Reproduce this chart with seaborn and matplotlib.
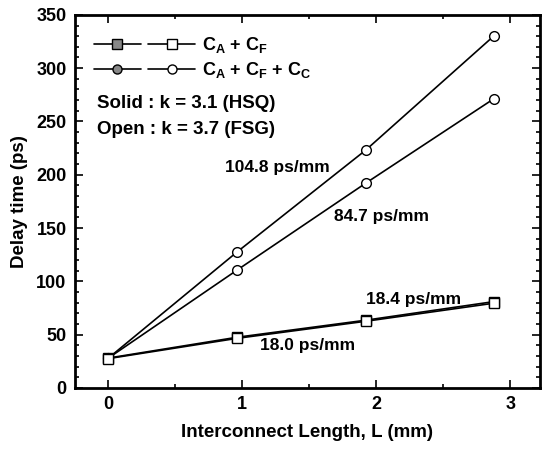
import matplotlib
matplotlib.use("Agg")
import matplotlib.pyplot as plt
import seaborn as sns
import pandas as pd
from matplotlib.lines import Line2D
from matplotlib.legend_handler import HandlerTuple
from matplotlib.ticker import MultipleLocator

# data
length_mm = [0, 0.96, 1.92, 2.88]
cf_hsq = [27.5, 46.5, 62.5, 79.5]      # C_A + C_F, k=3.1 (solid)
cf_fsg = [28.0, 47.5, 63.5, 81.0]      # C_A + C_F, k=3.7 (open)
cfc_hsq = [28.0, 110.5, 192.0, 271.5]  # C_A + C_F + C_C, k=3.1
cfc_fsg = [28.0, 127.5, 223.0, 330.5]  # C_A + C_F + C_C, k=3.7

slope_labels = ["104.8 ps/mm", "84.7 ps/mm", "18.4 ps/mm", "18.0 ps/mm"]
slope_pos = [(1.26, 207), (2.04, 161), (2.28, 83), (1.49, 40)]

sns.set_style("ticks", {"axes.edgecolor": "black", "text.color": "black",
                        "axes.labelcolor": "black", "xtick.color": "black",
                        "ytick.color": "black"})
plt.rcParams["font.family"] = ["Liberation Sans", "DejaVu Sans"]
plt.rcParams["font.weight"] = "bold"
plt.rcParams["mathtext.fontset"] = "custom"
plt.rcParams["mathtext.rm"] = "Liberation Sans:bold"
plt.rcParams["mathtext.it"] = "Liberation Sans:bold"
plt.rcParams["mathtext.bf"] = "Liberation Sans:bold"

fig = plt.figure(figsize=(5.43, 4.5), dpi=100)
ax = fig.add_axes([0.138, 0.138, 0.856, 0.829])

series = [
    (cfc_fsg, "o"),
    (cfc_hsq, "o"),
    (cf_fsg, "s"),
    (cf_hsq, "s"),
]
for vals, mk in series:
    df = pd.DataFrame({"L": length_mm, "t": vals})
    sns.lineplot(data=df, x="L", y="t", ax=ax, color="black", lw=1.2,
                 marker=mk, markersize=7, markerfacecolor="white",
                 markeredgecolor="black", markeredgewidth=1.0)

for txt, (x, y) in zip(slope_labels, slope_pos):
    ax.text(x, y, txt, ha="center", va="center", fontsize=12.5,
            fontweight="bold", color="black")

ax.set_xlim(-0.25, 3.22)
ax.set_ylim(0, 350)
ax.xaxis.set_major_locator(MultipleLocator(1))
ax.xaxis.set_minor_locator(MultipleLocator(0.5))
ax.yaxis.set_major_locator(MultipleLocator(50))
ax.yaxis.set_minor_locator(MultipleLocator(10))
ax.tick_params(which="both", direction="in", top=True, right=True, width=1.2,
               color="black", labelcolor="black")
ax.tick_params(which="major", length=6, labelsize=13, pad=6)
ax.tick_params(which="minor", length=3)
for s in ax.spines.values():
    s.set_linewidth(2)
    s.set_color("black")

ax.set_xlabel("Interconnect Length, L (mm)", fontsize=13.5, fontweight="bold",
              labelpad=8, color="black")
ax.set_ylabel("Delay time (ps)", fontsize=13.5, fontweight="bold",
              labelpad=6, color="black")


def mk_handle(marker, face):
    return Line2D([], [], color="black", lw=1.2, marker=marker, markersize=6.5,
                  markerfacecolor=face, markeredgecolor="black")


handles = [
    (mk_handle("s", "#888888"), mk_handle("s", "white")),
    (mk_handle("o", "#888888"), mk_handle("o", "white")),
]
labels = [r"$\mathregular{C_A}$ + $\mathregular{C_F}$",
          r"$\mathregular{C_A}$ + $\mathregular{C_F}$ + $\mathregular{C_C}$"]
leg = ax.legend(handles, labels, handler_map={tuple: HandlerTuple(ndivide=None, pad=0.4)},
                loc="upper left", bbox_to_anchor=(0.01, 0.985), frameon=False,
                handlelength=5.6, handletextpad=0.4, fontsize=13, labelspacing=0.3,
                borderaxespad=0.4)
for t in leg.get_texts():
    t.set_color("black")

ax.text(0.047, 0.762, "Solid : k = 3.1 (HSQ)", transform=ax.transAxes,
        fontsize=13.5, fontweight="bold", va="center", color="black")
ax.text(0.047, 0.694, "Open : k = 3.7 (FSG)", transform=ax.transAxes,
        fontsize=13.5, fontweight="bold", va="center", color="black")

fig.savefig("out.png", dpi=100)
